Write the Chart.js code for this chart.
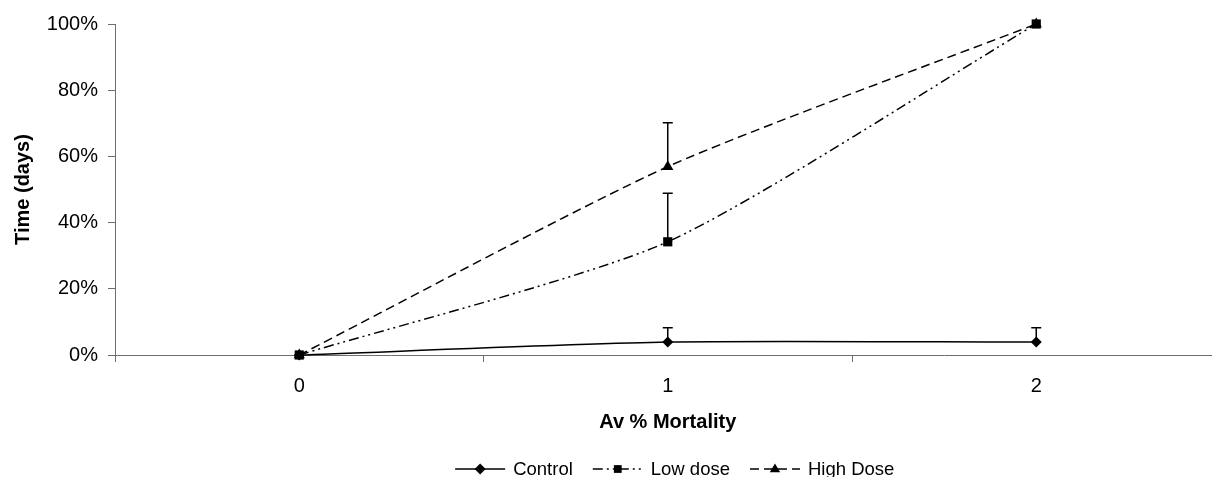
<!DOCTYPE html>
<html>
<head>
<meta charset="utf-8">
<script src="https://cdn.jsdelivr.net/npm/chart.js@4.4.1/dist/chart.umd.min.js"></script>
<style>
  html, body { margin: 0; padding: 0; background: #fff; width: 1212px; height: 477px; overflow: hidden; }
  #wrap { width: 1227px; height: 477px; }
  canvas { display: block; }
</style>
</head>
<body>
<div id="wrap"><canvas id="c" width="1227" height="477"></canvas></div>
<script>
// ---- data ----
const categories = ['0', '1', '2'];
const seriesNames = ['Control', 'Low dose', 'High Dose'];
const controlValues = [0, 0.039, 0.039];
const controlErrors = [0, 0.043, 0.043];
const lowDoseValues = [0, 0.342, 1.0];
const lowDoseErrors = [0, 0.147, 0];
const highDoseValues = [0, 0.569, 1.0];
const highDoseErrors = [0, 0.133, 0];
const yTickValues = [0, 0.2, 0.4, 0.6, 0.8, 1.0];
const yTickLabels = ['0%', '20%', '40%', '60%', '80%', '100%'];
const xTitle = 'Av % Mortality';
const yTitle = 'Time (days)';

const FONT = '"Liberation Sans", Arial, sans-serif';
const AXIS = '#6e6e6e';

function drawMarker(ctx, style, x, y, r) {
  ctx.beginPath();
  if (style === 'rectRot') {
    ctx.moveTo(x, y - r); ctx.lineTo(x + r, y); ctx.lineTo(x, y + r); ctx.lineTo(x - r, y);
  } else if (style === 'rect') {
    const h = r * Math.SQRT1_2;
    ctx.rect(x - h, y - h, 2 * h, 2 * h);
  } else {
    ctx.moveTo(x, y - r); ctx.lineTo(x + r * 0.95, y + r * 0.6); ctx.lineTo(x - r * 0.95, y + r * 0.6);
  }
  ctx.closePath();
  ctx.fill();
}

const errorBars = {
  id: 'errorBars',
  afterDatasetsDraw(chart) {
    const ctx = chart.ctx;
    const ys = chart.scales.y;
    ctx.save();
    ctx.strokeStyle = '#000';
    ctx.lineWidth = 1.5;
    ctx.setLineDash([]);
    chart.data.datasets.forEach((ds, di) => {
      const meta = chart.getDatasetMeta(di);
      (ds.errors || []).forEach((e, i) => {
        if (!e) return;
        const x = meta.data[i].x;
        const y0 = ys.getPixelForValue(ds.data[i]);
        const y1 = ys.getPixelForValue(ds.data[i] + e);
        ctx.beginPath();
        ctx.moveTo(x, y0); ctx.lineTo(x, y1);
        ctx.moveTo(x - 5, y1); ctx.lineTo(x + 5, y1);
        ctx.stroke();
      });
    });
    ctx.restore();
  }
};

const customLegend = {
  id: 'customLegend',
  afterDraw(chart) {
    const ctx = chart.ctx;
    ctx.save();
    ctx.font = '18.5px ' + FONT;
    const sym = 50, gap = 8, itemGap = 20;
    const items = chart.data.datasets.map(ds => ({ ds, w: sym + gap + ctx.measureText(ds.label).width }));
    const total = items.reduce((a, b) => a + b.w, 0) + itemGap * (items.length - 1);
    let x = (chart.chartArea.left + chart.chartArea.right) / 2 + 7 - total / 2;
    const y = 469;
    items.forEach(it => {
      const ds = it.ds;
      ctx.strokeStyle = '#000';
      ctx.fillStyle = '#000';
      ctx.lineWidth = 1.5;
      ctx.setLineDash(ds.borderDash || []);
      ctx.beginPath();
      ctx.moveTo(x, y); ctx.lineTo(x + sym, y);
      ctx.stroke();
      ctx.setLineDash([]);
      drawMarker(ctx, ds.pointStyle, x + sym / 2, y, 5.5);
      ctx.textBaseline = 'middle';
      ctx.textAlign = 'left';
      ctx.fillText(ds.label, x + sym + gap, y + 1);
      x += it.w + itemGap;
    });
    ctx.restore();
  }
};

const common = {
  borderColor: '#000', backgroundColor: '#000', borderWidth: 1.5,
  pointBorderWidth: 0, pointBackgroundColor: '#000',
  tension: 0.22, fill: false, clip: false
};

new Chart(document.getElementById('c'), {
  type: 'line',
  data: {
    labels: categories,
    datasets: [
      Object.assign({}, common, { label: seriesNames[0], data: controlValues, errors: controlErrors, borderDash: [], pointStyle: 'rectRot', pointRadius: 5.5, order: 1 }),
      Object.assign({}, common, { label: seriesNames[1], data: lowDoseValues, errors: lowDoseErrors, borderDash: [10, 4, 2, 4, 2, 4], pointStyle: 'rect', pointRadius: 6.5, order: 0 }),
      Object.assign({}, common, { label: seriesNames[2], data: highDoseValues, errors: highDoseErrors, borderDash: [9, 5], pointStyle: 'triangle', pointRadius: 6.5, order: 2 })
    ]
  },
  options: {
    responsive: false,
    animation: false,
    layout: { padding: { top: 24, bottom: 43, left: 0, right: 0 } },
    plugins: { legend: { display: false }, tooltip: { enabled: false } },
    scales: {
      x: {
        offset: true,
        grid: { offset: true, drawOnChartArea: false, drawTicks: true, tickLength: 7, color: AXIS, lineWidth: 1 },
        border: { color: AXIS, width: 1 },
        ticks: { color: '#000', font: { family: FONT, size: 20 }, padding: 12 },
        title: { display: true, text: xTitle, color: '#000', font: { family: FONT, size: 20, weight: 'bold' }, padding: { top: 0, bottom: 0 } }
      },
      y: {
        min: 0, max: 1,
        afterFit: s => { s.width = 115; },
        afterBuildTicks: s => { s.ticks = yTickValues.map(v => ({ value: v })); },
        grid: { drawOnChartArea: false, drawTicks: true, tickLength: 7, color: AXIS, lineWidth: 1 },
        border: { color: AXIS, width: 1 },
        ticks: { color: '#000', font: { family: FONT, size: 20 }, padding: 10,
                 callback: (v, i) => yTickLabels[i] },
        title: { display: true, text: yTitle, color: '#000', font: { family: FONT, size: 20, weight: 'bold' }, padding: { top: 11, bottom: 0 } }
      }
    }
  },
  plugins: [errorBars, customLegend]
});
</script>
</body>
</html>
